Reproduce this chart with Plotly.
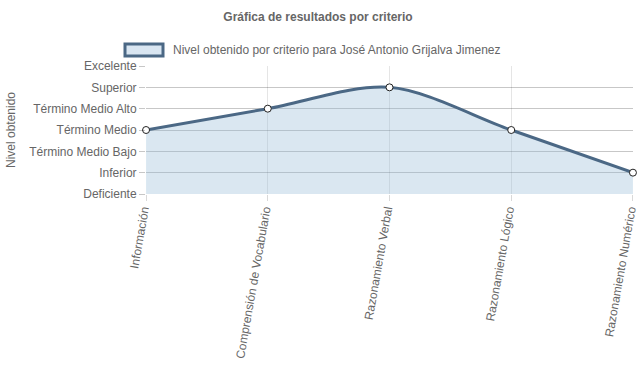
import plotly.graph_objects as go

categories = ["Información", "Comprensión de Vocabulario", "Razonamiento Verbal",
              "Razonamiento Lógico", "Razonamiento Numérico"]
levels = ["Deficiente", "Inferior", "Término Medio Bajo", "Término Medio",
          "Término Medio Alto", "Superior", "Excelente"]
values = [3, 4, 5, 3, 1]
series_name = "Nivel obtenido por criterio para José Antonio Grijalva Jimenez"

LINE = "rgb(75,104,133)"
FILL = "rgba(150,186,216,0.35)"
TXT = "#666666"
FONT = "Liberation Sans, Arial, sans-serif"

W, H = 637, 389
L, R, T, B = 146, 4, 66, 389 - 194
PW, PH = W - L - R, H - T - B


def px_x(x):
    return (x - L) / PW


def px_y(y):
    return (H - B - y) / PH


fig = go.Figure()
fig.add_trace(go.Scatter(
    x=list(range(len(categories))), y=values, name=series_name,
    mode="lines+markers", fill="tozeroy", fillcolor=FILL,
    line=dict(color=LINE, width=3, shape="spline", smoothing=0.9),
    marker=dict(color="white", size=7, line=dict(color="#222222", width=1)),
    cliponaxis=False, showlegend=False, hoverinfo="skip",
))

fig.update_layout(
    width=W, height=H,
    margin=dict(l=L, r=R, t=T, b=B, autoexpand=False),
    paper_bgcolor="white", plot_bgcolor="white",
    font=dict(family=FONT, size=12, color=TXT),
    title=dict(text="<b>Gráfica de resultados por criterio</b>", x=px_x(318), xref="paper",
               xanchor="center", y=1 - 17 / H, yanchor="middle",
               font=dict(size=12, color=TXT, family=FONT)),
    xaxis=dict(
        tickvals=list(range(len(categories))), ticktext=categories,
        range=[-0.0005, len(categories) - 1 + 0.0005], tickangle=-80,
        showgrid=True, gridcolor="rgba(0,0,0,0.1)", gridwidth=1,
        ticks="outside", ticklen=6, tickcolor="rgba(0,0,0,0.15)",
        zeroline=False, showline=False, automargin=False,
        ticklabeloverflow="allow", ticklabelstandoff=-3, ticklabelshift=-3,
        tickfont=dict(size=12, color=TXT),
    ),
    yaxis=dict(
        tickvals=list(range(len(levels))), ticktext=levels,
        range=[0, len(levels) - 1],
        showgrid=True, gridcolor="rgba(0,0,0,0.22)", gridwidth=1,
        ticks="outside", ticklen=6, tickcolor="rgba(0,0,0,0.22)",
        zeroline=False, showline=False, automargin=False,
        ticklabeloverflow="allow",
        tickfont=dict(size=12, color=TXT),
    ),
    shapes=[dict(type="rect", xref="paper", yref="paper",
                 x0=px_x(125), x1=px_x(163), y0=px_y(56), y1=px_y(44),
                 line=dict(color=LINE, width=3), fillcolor="rgb(217,230,242)")],
    annotations=[
        dict(text=series_name, xref="paper", yref="paper",
             x=px_x(171), y=px_y(50), xanchor="left", yanchor="middle", showarrow=False,
             font=dict(size=12, color=TXT, family=FONT)),
        dict(text="Nivel obtenido", xref="paper", yref="paper",
             x=px_x(11), y=px_y(130), xanchor="center", yanchor="middle", showarrow=False,
             textangle=-90, font=dict(size=12, color=TXT, family=FONT)),
    ],
)

fig.write_html("out.html", config={"displayModeBar": False},
               post_script="document.body.style.margin='0';document.body.style.overflow='hidden';")
